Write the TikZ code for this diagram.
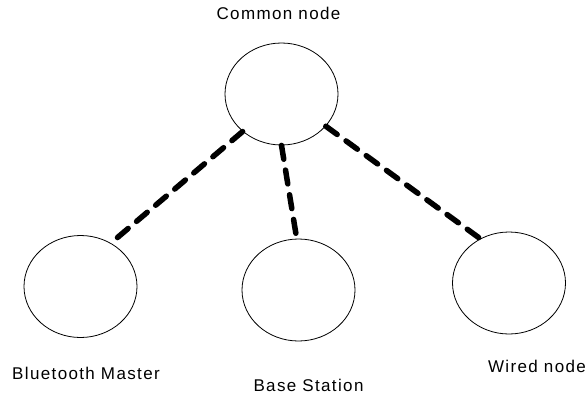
\documentclass[tikz,border=0pt]{standalone}
\usepackage{fontspec}
\setmainfont{Liberation Sans}[LetterSpace=8]
\usetikzlibrary{shapes.geometric}

\begin{document}
\begin{tikzpicture}[x=1pt,y=-1pt,
    station/.style={ellipse,draw,line width=0.8pt,inner sep=0pt,
        minimum width=113pt,minimum height=102pt},
    caption/.style={anchor=base,inner sep=0pt,font=\fontsize{17}{19}\selectfont},
    link/.style={line width=5.5pt,line cap=round,dash pattern=on 14pt off 11pt}]
\useasboundingbox (0,0) rectangle (588,394);

% the four nodes
\node[station] (common) at (281.5,94) {};
\node[station] (master) at (80.5,286.5) {};
\node[station] (base) at (298.5,290) {};
\node[station] (wired) at (509,283) {};

% their names
\node[caption] (commonlab) at (278.5,19.5) {Common node};
\node[caption] (masterlab) at (86,379.5) {Bluetooth Master};
\node[caption] (baselab) at (308.5,391.5) {Base Station};
\node[caption] (wiredlab) at (537,372) {Wired node};

% wireless links
\draw[link] (common.224) -- (master.55);
\draw[link] (common.270) -- (base.92);
\draw[link] (common.324) -- (wired.123);
\end{tikzpicture}
\end{document}
